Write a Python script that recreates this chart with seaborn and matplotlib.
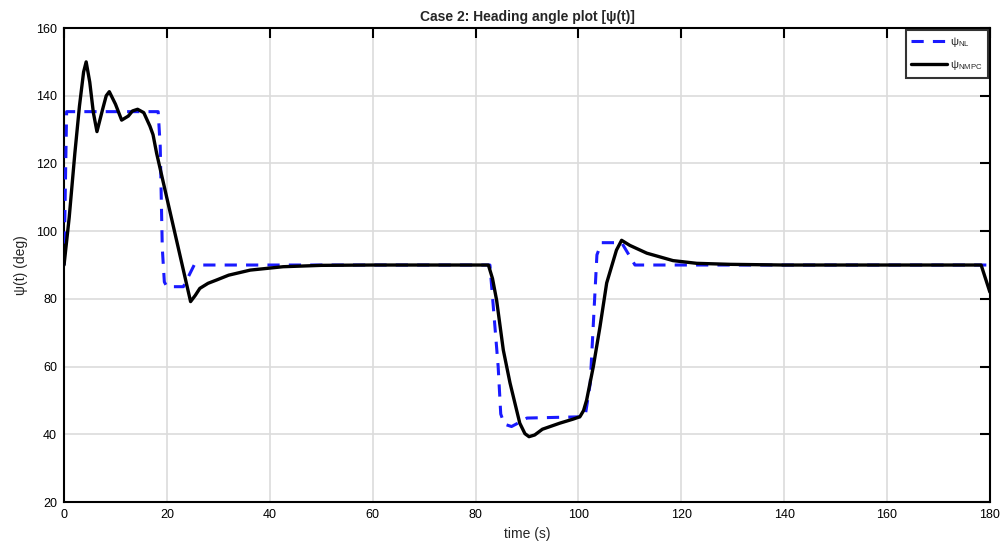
import matplotlib
matplotlib.use("Agg")
import matplotlib.pyplot as plt
import seaborn as sns
import pandas as pd

# ---- data ----
t_nl = [0, 0.5, 18.3, 18.7, 19.1, 19.5, 20.0, 23.2, 25.3, 82.8, 84.4, 84.9, 85.6, 87.0,
        88.5, 90.0, 101.3, 102.3, 103.6, 104.5, 108.4, 111.0, 180]
psi_nl = [90, 135.3, 135.3, 125, 95, 85, 83.6, 83.6, 90, 90, 60, 46, 43, 42.3,
          43.5, 44.8, 45.2, 55, 93, 96.6, 96.6, 90, 90]

t_nmpc = [0, 1, 2.1, 3, 3.8, 4.3, 5, 5.7, 6.4, 7.5, 8.2, 8.8, 10, 11.2, 12.5, 13.3, 14.3,
          15.5, 16.7, 17.3, 18, 24.6, 25.5, 26.4, 28, 29.7, 32, 36.2, 42.6, 50, 60,
          82.5, 83.3, 84.1, 85.4, 86.7, 88.6, 89.6, 90.4, 91.5, 93, 96.4, 99, 100.3, 101,
          101.6, 102.9, 104.2, 105.5, 107.4, 108.4, 110, 113.3, 118.4, 123, 129.5, 140,
          178.3, 180]
psi_nmpc = [90, 104, 123, 137, 147, 150, 144, 135, 129.4, 136, 140, 141.2, 137.5, 132.8,
            134, 135.5, 136, 135, 131, 128.5, 123, 79.2, 81, 83.1, 84.6, 85.6, 87, 88.5,
            89.5, 89.9, 90,
            90, 86, 79.6, 64.9, 55.2, 43.3, 40.2, 39.3, 39.8, 41.5, 43.3, 44.5, 45.2, 47,
            50.1, 60, 71.8, 84.7, 94.4, 97.3, 95.8, 93.5, 91.3, 90.5, 90.2, 90,
            90, 82]

x_ticks = [0, 20, 40, 60, 80, 100, 120, 140, 160, 180]
y_ticks = [20, 40, 60, 80, 100, 120, 140, 160]

title = "Case 2: Heading angle plot [ψ(t)]"
xlabel = "time (s)"
ylabel = "ψ(t) (deg)"
labels = [r"ψ$_{\mathrm{NL}}$", r"ψ$_{\mathrm{NMPC}}$"]

# ---- plot ----
sns.set_style("white")
plt.rcParams["font.family"] = ["Liberation Sans", "DejaVu Sans"]
plt.rcParams["mathtext.fontset"] = "custom"
plt.rcParams["mathtext.rm"] = "Liberation Sans"
plt.rcParams["mathtext.it"] = "Liberation Sans:italic"

fig = plt.figure(figsize=(10.07, 5.57), dpi=100)
ax = fig.add_axes([0.0636, 0.0987, 0.9194, 0.851])

df_nl = pd.DataFrame({"t": t_nl, "psi": psi_nl})
df_nmpc = pd.DataFrame({"t": t_nmpc, "psi": psi_nmpc})

sns.lineplot(data=df_nl, x="t", y="psi", ax=ax, color="#1a1aff", lw=2.2,
             linestyle=(0, (4, 3)), label=labels[0], estimator=None, sort=False, zorder=3)
sns.lineplot(data=df_nmpc, x="t", y="psi", ax=ax, color="black", lw=2.4,
             label=labels[1], estimator=None, sort=False, zorder=4)
for ln in ax.get_lines():
    ln.set_solid_joinstyle("round")
    ln.set_dash_joinstyle("round")

ax.set_xlim(0, 180)
ax.set_ylim(20, 160)
ax.set_xticks(x_ticks)
ax.set_yticks(y_ticks)
ax.grid(True, color="#dcdcdc", lw=1.2)
ax.set_axisbelow(True)
for s in ax.spines.values():
    s.set_color("black")
    s.set_linewidth(1.5)
ax.tick_params(direction="in", length=7, width=1.5, top=True, right=True,
               labelsize=9, colors="black", pad=5)
ax.set_title(title, fontsize=10, fontweight="bold", pad=5)
ax.set_xlabel(xlabel, fontsize=10, labelpad=4)
ax.set_ylabel(ylabel, fontsize=10, labelpad=6)

leg = ax.legend(loc="upper right", fontsize=8, frameon=True, fancybox=False,
                edgecolor="black", borderaxespad=0.15, handlelength=3.2,
                handletextpad=0.3, borderpad=0.5, labelspacing=0.8)
leg.get_frame().set_linewidth(1.5)

fig.savefig("out.png", dpi=100, facecolor="white")
